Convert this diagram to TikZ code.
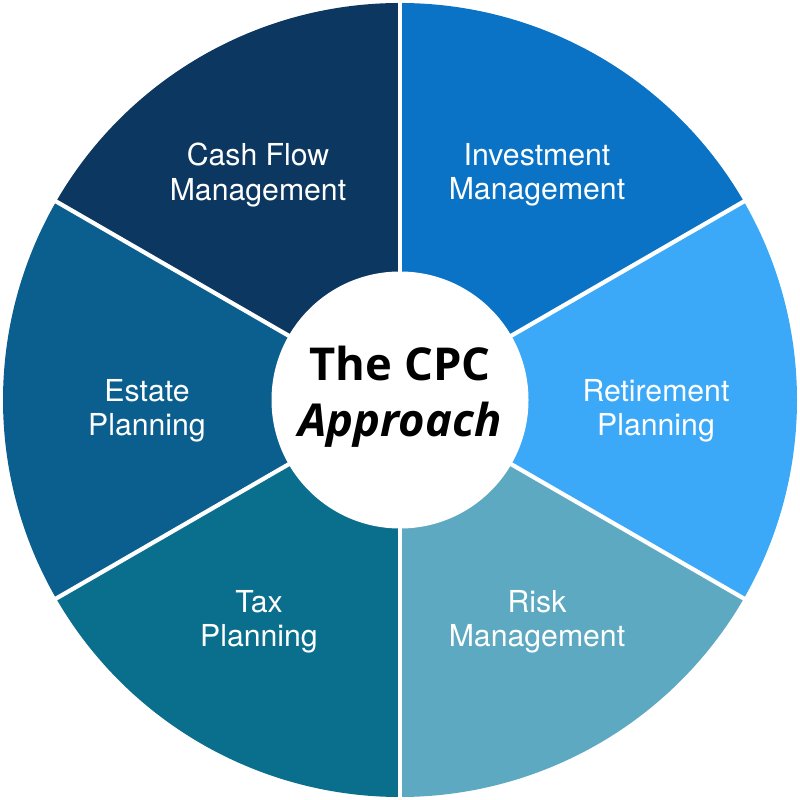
\documentclass[tikz,border=0pt]{standalone}
\usepackage{fontspec}
\setmainfont{TeX Gyre Heros}
\newfontfamily\hubfont{Open Sans}

\definecolor{cashcol}{HTML}{0C3760}
\definecolor{investcol}{HTML}{0A73C6}
\definecolor{retirecol}{HTML}{3BA9F7}
\definecolor{riskcol}{HTML}{5DA9C1}
\definecolor{taxcol}{HTML}{0A6F8D}
\definecolor{estatecol}{HTML}{0B5F8F}

\newcommand*{\rout}{3.97}
\newcommand*{\rin}{1.285}

\begin{document}
\begin{tikzpicture}
[
	divider/.style={white,line width=1.2pt},
	wedgelabel/.style={text=white,align=center,font=\fontsize{8.6}{9.8}\selectfont},
	hub/.style={circle,fill=white,inner sep=0pt,minimum size=2*\rin cm}
]
	\useasboundingbox (-4,-4) rectangle (4,4);

	% sectors
	\foreach \a/\c in {30/investcol,90/cashcol,150/estatecol,210/taxcol,270/riskcol,330/retirecol} {
		\fill[\c] (0,0) -- (\a:\rout) arc[start angle=\a,end angle=\a+60,radius=\rout] -- cycle;
	}

	% white dividers
	\foreach \a in {30,90,...,330} {
		\draw[divider] (0,0) -- (\a:\rout+0.05);
	}

	\node[hub] (core) at (0,0) {};
	\node[font=\hubfont\bfseries\fontsize{12.9}{16}\selectfont,align=center] (title) at (0,0.03)
		{The CPC\\\textit{Approach}};

	\node[wedgelabel] (cashflow) at (-1.42,2.25) {Cash Flow\\Management};
	\node[wedgelabel] (invest) at (1.37,2.25) {Investment\\Management};
	\node[wedgelabel] (retire) at (2.56,-0.11) {Retirement\\Planning};
	\node[wedgelabel] (estate) at (-2.53,-0.11) {Estate\\Planning};
	\node[wedgelabel] (tax) at (-1.41,-2.22) {Tax\\Planning};
	\node[wedgelabel] (risk) at (1.37,-2.22) {Risk\\Management};

\end{tikzpicture}
\end{document}
